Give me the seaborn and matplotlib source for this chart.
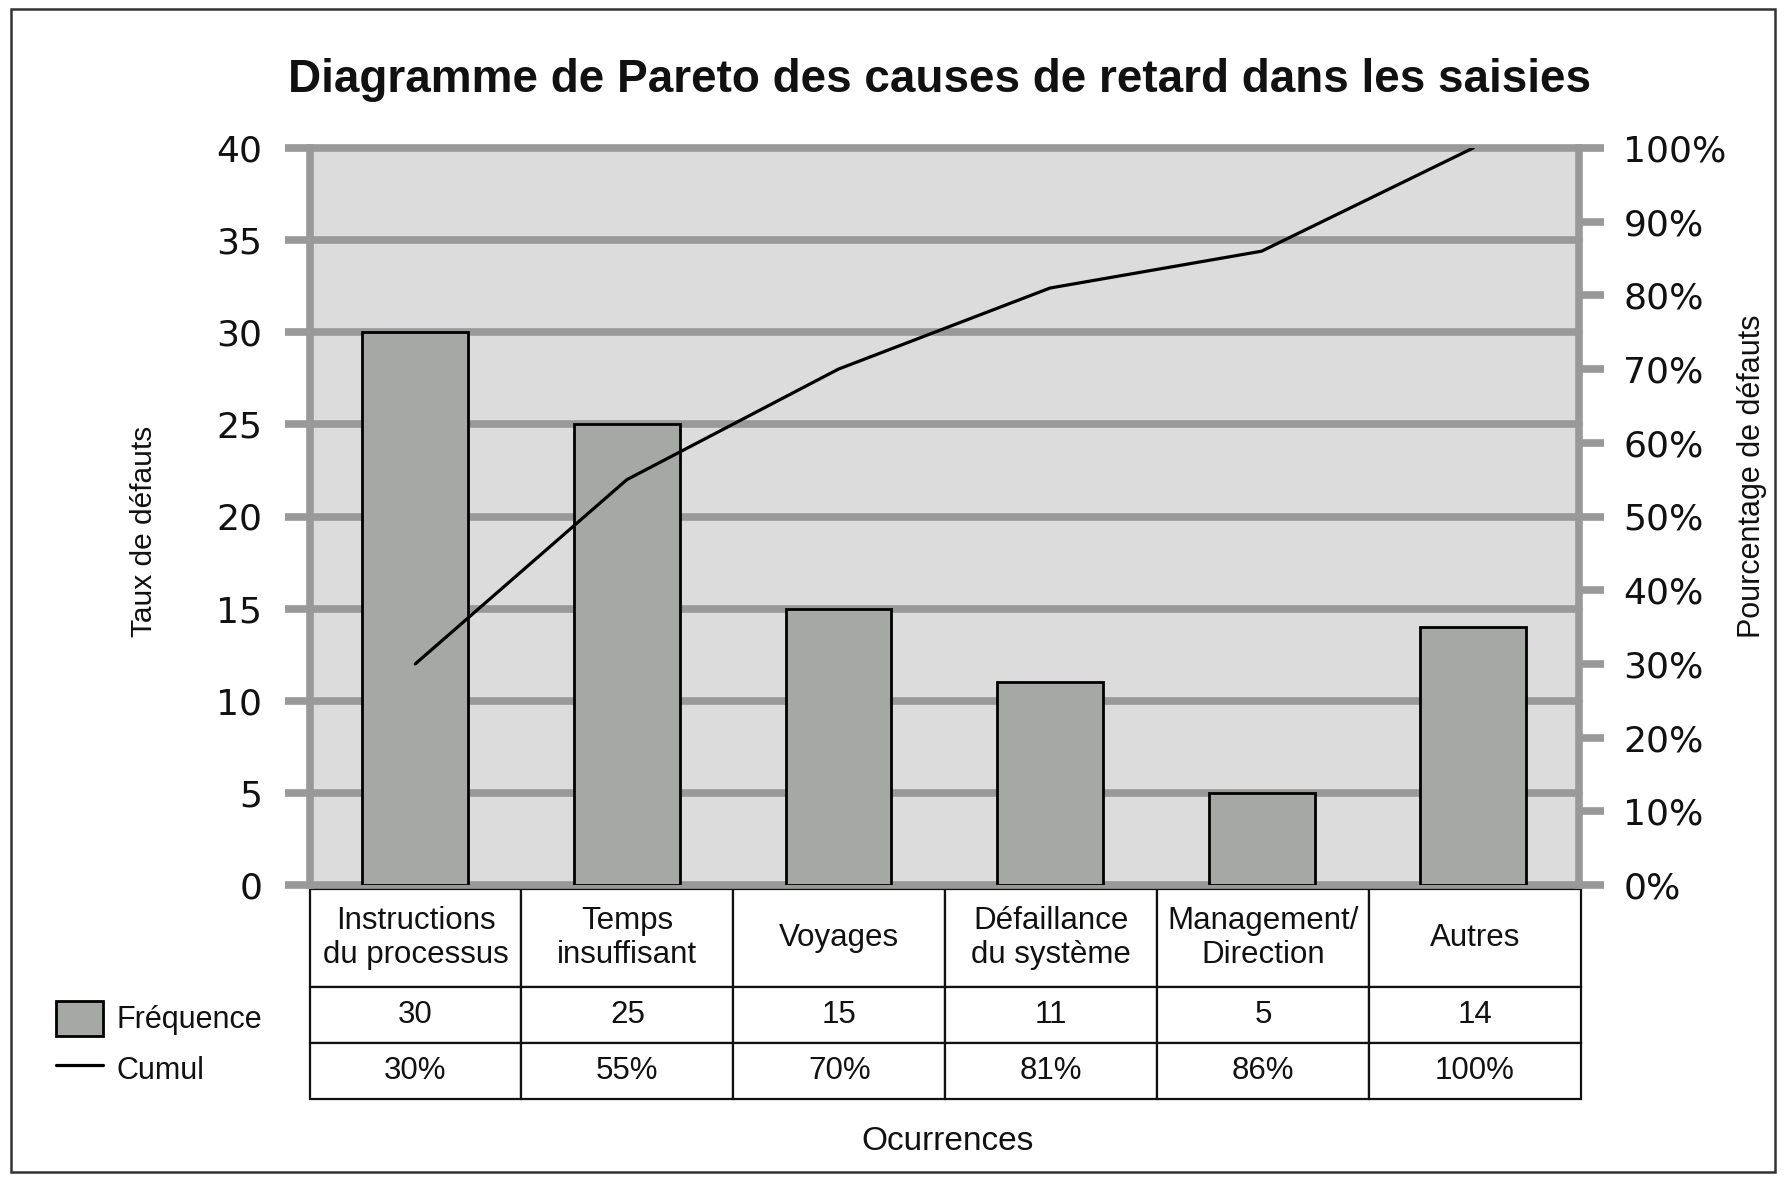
import numpy as np
import pandas as pd
import matplotlib
matplotlib.use("Agg")
import matplotlib.pyplot as plt
import seaborn as sns
from matplotlib.patches import Rectangle
from matplotlib.lines import Line2D

# données
causes = ["Instructions\ndu processus", "Temps\ninsuffisant", "Voyages",
          "Défaillance\ndu système", "Management/\nDirection", "Autres"]
frequence = [30, 25, 15, 11, 5, 14]
cumul = [30, 55, 70, 81, 86, 100]
freq_ticks = [0, 5, 10, 15, 20, 25, 30, 35, 40]
pct_ticks = [0, 10, 20, 30, 40, 50, 60, 70, 80, 90, 100]

df = pd.DataFrame({"cause": causes, "frequence": frequence, "cumul": cumul})

sns.set_theme(style="white")
narrow = ["Liberation Sans Narrow", "Liberation Sans", "DejaVu Sans"]
wide = ["DejaVu Sans"]
plt.rcParams["font.family"] = ["Liberation Sans", "DejaVu Sans"]

bar_col = "#a6a8a5"
grid_col = "#999999"
bg_col = "#dcdcdc"
W, H = 1784, 1179

fig = plt.figure(figsize=(W / 100, H / 100), dpi=100)
ax = fig.add_axes([309.5 / W, 1 - 885 / H, (1579 - 309.5) / W, (885 - 148) / H])
ax.set_facecolor(bg_col)

sns.barplot(data=df, x="cause", y="frequence", color=bar_col, saturation=1,
            edgecolor="black", linewidth=2, width=0.5, ax=ax, zorder=3)
ax.set_xlim(-0.5, len(causes) - 0.5)
ax.set_ylim(0, 40)
ax.set_yticks(freq_ticks)
ax.set_yticklabels([str(v) for v in freq_ticks], fontsize=26, color="#111111", family=wide)
ax.set_xticks([])
ax.set_xlabel("")
ax.set_ylabel("")
ax.grid(axis="y", color=grid_col, lw=5.5, zorder=1)
ax.set_axisbelow(True)
for gl in ax.get_ygridlines():
    gl.set_clip_on(False)
ax.tick_params(axis="y", length=18, width=5.5, color=grid_col, pad=16, left=True)
for s in ["top", "bottom", "right"]:
    ax.spines[s].set_visible(False)
ax.spines["left"].set_color(grid_col)
ax.spines["left"].set_linewidth(5.5)

ax2 = ax.twinx()
sns.lineplot(x=np.arange(len(causes)), y=cumul, color="black", lw=2.3, ax=ax2)
ax2.set_ylim(0, 100)
ax2.set_yticks(pct_ticks)
ax2.set_yticklabels([f"{v}%" for v in pct_ticks], fontsize=26, color="#111111", family=wide)
ax2.tick_params(axis="y", length=18, width=5.5, color=grid_col, pad=14, right=True)
for s in ["top", "bottom", "left"]:
    ax2.spines[s].set_visible(False)
ax2.spines["right"].set_color(grid_col)
ax2.spines["right"].set_linewidth(5.5)
ax2.set_ylabel("")

# tableau sous le graphique
cells = [causes, [str(v) for v in frequence], [f"{v}%" for v in cumul]]
tab = ax.table(cellText=cells, cellLoc="center", bbox=[0, -0.2904, 1.0015, 0.2844])
tab.auto_set_font_size(False)
for (r, c), cell in tab.get_celld().items():
    cell.set_height(85 if r == 0 else 49)
    cell.set_linewidth(1.6)
    cell.set_edgecolor("#111111")
    cell.get_text().set_fontsize(22.5)
    cell.get_text().set_family(narrow)
    cell.get_text().set_color("#111111")

# légende
handles = [Rectangle((0, 0), 1, 1, facecolor=bar_col, edgecolor="black", lw=2),
           Line2D([], [], color="black", lw=2.3)]
fig.legend(handles, ["Fréquence", "Cumul"], loc="upper left",
           bbox_to_anchor=(28 / W, 1 - 973 / H), frameon=False,
           prop={"family": narrow, "size": 22}, handlelength=1.55, handleheight=1.4,
           handletextpad=0.45, labelspacing=0.5, labelcolor="#111111")

fig.text(939 / W, 1 - 80 / H, "Diagramme de Pareto des causes de retard dans les saisies",
         ha="center", va="center", fontsize=33, fontweight="bold", color="#111111")
fig.text(144 / W, 1 - 531 / H, "Taux de défauts", rotation=90, ha="center", va="center",
         fontsize=21.5, family=narrow, color="#111111")
fig.text(1752 / W, 1 - 476 / H, "Pourcentage de défauts", rotation=90, ha="center",
         va="center", fontsize=22, family=narrow, color="#111111")
fig.text(948 / W, 1 - 1141 / H, "Ocurrences", ha="center", va="center",
         fontsize=24, family=narrow, color="#111111")

fig.patches.append(Rectangle((11 / W, 1 - 1172 / H), (1775 - 11) / W, (1172 - 9) / H,
                             transform=fig.transFigure, fill=False, edgecolor="#333333", lw=1.8))

fig.savefig("out.png", dpi=100)
